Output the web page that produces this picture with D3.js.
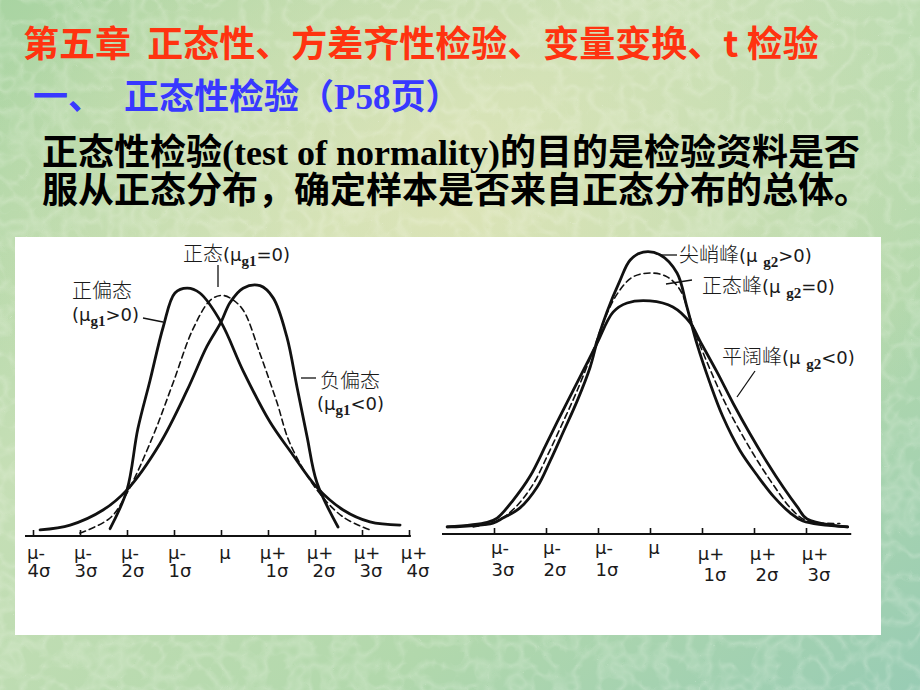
<!DOCTYPE html>
<html>
<head>
<meta charset="utf-8">
<script src="https://cdn.jsdelivr.net/npm/d3@7"></script>
<style>
  html, body { margin: 0; padding: 0; background: #b0d6a8; }
  svg { display: block; }
  .cjk { font-family: "Noto Sans CJK SC", sans-serif; }
  .lbl { font-family: "Noto Sans CJK SC", sans-serif; font-size: 20px; font-weight: 300; fill: #1a1a1a; }
  .lat { font-family: "DejaVu Sans", sans-serif; font-size: 18px; font-weight: 400; fill: #1a1a1a; }
</style>
</head>
<body>
<svg id="slide" width="920" height="690"></svg>
<script>
// 左图：偏度 (x 以 σ 为单位，y 以正态峰高为 1)
const leftTicks = [-4, -3, -2, -1, 0, 1, 2, 3, 4]
const leftTickTop = ["μ-", "μ-", "μ-", "μ-", "μ", "μ+", "μ+", "μ+", "μ+"]
const leftTickBottom = ["4σ", "3σ", "2σ", "1σ", "", "1σ", "2σ", "3σ", "4σ"]

const posSkewX = [-2.36, -2.0, -1.77, -1.51, -1.23, -0.98, -0.72, -0.45, 0.0, 0.47, 1.04, 1.47, 2.04, 2.6, 3.17, 3.81]
const posSkewY = [0.03, 0.19, 0.44, 0.64, 0.86, 1.0, 1.02, 1.0, 0.88, 0.68, 0.47, 0.35, 0.2, 0.107, 0.058, 0.045]

const negSkewX = [-3.85, -3.21, -2.51, -2.0, -1.3, -0.72, -0.3, 0.0, 0.19, 0.47, 0.83, 1.11, 1.4, 1.62, 1.83, 2.04, 2.49]
const negSkewY = [0.025, 0.045, 0.107, 0.19, 0.38, 0.6, 0.78, 0.88, 0.96, 1.02, 1.03, 0.98, 0.82, 0.61, 0.41, 0.22, 0.037]

const skewNormX = [-3.0, -2.36, -2.0, -1.45, -1.02, -0.6, -0.23, 0.0, 0.19, 0.47, 0.83, 1.19, 1.47, 2.04, 2.6, 3.17]
const skewNormY = [0.012, 0.074, 0.177, 0.41, 0.63, 0.85, 0.97, 0.99, 0.98, 0.93, 0.75, 0.55, 0.38, 0.19, 0.078, 0.025]

// 右图：峰度
const rightTicks = [-3, -2, -1, 0, 1, 2, 3]
const rightTickTop = ["μ-", "μ-", "μ-", "μ", "μ+", "μ+", "μ+"]
const rightTickBottom = ["3σ", "2σ", "1σ", "", "1σ", "2σ", "3σ"]

const leptoX = [-3.9, -3.02, -2.83, -2.5, -2.17, -1.92, -1.67, -1.4, -1.15, -1.0, -0.83, -0.58, -0.38, -0.13, 0.19, 0.52, 0.71, 0.9, 1.15, 1.4, 1.73, 2.06, 2.37, 2.69, 2.94, 3.8]
const leptoY = [0.027, 0.042, 0.061, 0.10, 0.18, 0.28, 0.39, 0.51, 0.64, 0.75, 0.85, 0.97, 1.05, 1.08, 1.07, 1.0, 0.87, 0.73, 0.58, 0.45, 0.32, 0.225, 0.145, 0.082, 0.05, 0.027]

const platyX = [-3.9, -3.13, -2.94, -2.63, -2.31, -1.98, -1.67, -1.35, -1.02, -0.71, -0.44, 0.0, 0.44, 0.77, 0.96, 1.29, 1.6, 1.92, 2.25, 2.56, 2.83, 3.02, 3.8]
const platyY = [0.027, 0.045, 0.061, 0.13, 0.22, 0.35, 0.475, 0.6, 0.73, 0.85, 0.885, 0.893, 0.87, 0.81, 0.74, 0.62, 0.5, 0.385, 0.275, 0.18, 0.105, 0.058, 0.027]

const kurtNormX = [-3.4, -2.94, -2.6, -2.25, -1.95, -1.67, -1.4, -1.1, -0.9, -0.63, -0.33, 0.03, 0.33, 0.58, 0.77, 0.93, 1.2, 1.5, 1.8, 2.1, 2.4, 2.7, 3.0, 3.65]
const kurtNormY = [0.027, 0.05, 0.1, 0.19, 0.31, 0.43, 0.55, 0.7, 0.81, 0.92, 0.985, 1.0, 0.985, 0.935, 0.83, 0.74, 0.61, 0.48, 0.37, 0.27, 0.18, 0.1, 0.052, 0.04]

let svg = d3.select("#slide")
let defs = svg.append("defs")

// 背景
let bg = defs.append("linearGradient").attr("id", "bgLin")
    .attr("x1", 0).attr("y1", 0).attr("x2", 1).attr("y2", 1)
bg.append("stop").attr("offset", "0%").attr("stop-color", "#a9d4a2")
bg.append("stop").attr("offset", "35%").attr("stop-color", "#c6dfb6")
bg.append("stop").attr("offset", "70%").attr("stop-color", "#b2d8ac")
bg.append("stop").attr("offset", "100%").attr("stop-color", "#98ccb4")

let glow = defs.append("radialGradient").attr("id", "bgGlow")
    .attr("cx", 0.5).attr("cy", 0.3).attr("r", 0.55)
glow.append("stop").attr("offset", "0%").attr("stop-color", "#e6e6b8").attr("stop-opacity", 0.7)
glow.append("stop").attr("offset", "100%").attr("stop-color", "#e6e6b8").attr("stop-opacity", 0)

let tex = defs.append("filter").attr("id", "tex")
    .attr("x", 0).attr("y", 0).attr("width", "100%").attr("height", "100%")
tex.append("feTurbulence").attr("type", "turbulence")
    .attr("baseFrequency", 0.045).attr("numOctaves", 2).attr("seed", 5)
tex.append("feColorMatrix").attr("type", "matrix")
    .attr("values", "0 0 0 0 1  0 0 0 0 1  0 0 0 0 0.95  -1.6 0 0 0 0.55")

svg.append("rect").attr("width", 920).attr("height", 690).attr("fill", "url(#bgLin)")
svg.append("rect").attr("width", 920).attr("height", 690).attr("fill", "url(#bgGlow)")
svg.append("rect").attr("width", 920).attr("height", 690).attr("filter", "url(#tex)").attr("opacity", 0.35)

// 标题
svg.append("text")
    .attr("class", "cjk")
    .attr("x", 23).attr("y", 57)
    .attr("font-size", 36).attr("font-weight", 700)
    .attr("fill", "#ff3310")
    .style("white-space", "pre")
    .text("第五章  正态性、方差齐性检验、变量变换、t 检验")

let sub = svg.append("g").attr("class", "cjk")
    .attr("font-size", 35).attr("font-weight", 700).attr("fill", "#3838ff")
sub.append("text").attr("x", 33).attr("y", 109).text("一、")
let subT = sub.append("text").attr("x", 124).attr("y", 109)
subT.append("tspan").text("正态性检验（")
subT.append("tspan").attr("font-family", "Liberation Serif").text("P58")
subT.append("tspan").text("页）")

let body = svg.append("g").attr("class", "cjk")
    .attr("font-size", 36).attr("font-weight", 700).attr("fill", "#000")
let line1 = body.append("text").attr("x", 42).attr("y", 165)
line1.append("tspan").text("正态性检验")
line1.append("tspan").attr("font-family", "Liberation Serif").text("(test of normality)")
line1.append("tspan").text("的目的是检验资料是否")
body.append("text").attr("x", 42).attr("y", 203)
    .text("服从正态分布，确定样本是否来自正态分布的总体。")

// 白色图框
svg.append("rect")
    .attr("x", 15).attr("y", 237).attr("width", 866).attr("height", 398)
    .attr("fill", "#fff")

function drawPanel(opt) {
    let g = svg.append("g")
    let x = d3.scaleLinear().domain(opt.xDomain).range(opt.xRange)
    let y = d3.scaleLinear().domain([0, 1]).range(opt.yRange)

    // 横轴
    g.append("line")
        .attr("x1", x(opt.axisExtent[0])).attr("x2", x(opt.axisExtent[1]))
        .attr("y1", y(0)).attr("y2", y(0))
        .attr("stroke", "#111").attr("stroke-width", 2)
    let axis = g.append("g")
        .attr("transform", `translate(0,${y(0)})`)
        .call(d3.axisBottom(x).tickValues(opt.ticks).tickSize(-6).tickFormat(""))
    axis.select(".domain").remove()
    axis.selectAll(".tick line").attr("stroke", "#111").attr("stroke-width", 1.6)

    // 刻度标签（两行，各自一个 text）
    let off = d => d > 0 ? opt.posOff : (d < 0 ? opt.negOff : [4, 0, 0, 0])
    g.append("g").selectAll("text")
        .data(opt.ticks)
        .enter()
        .append("text")
        .attr("class", "lat")
        .attr("text-anchor", "middle")
        .attr("x", d => x(d) + off(d)[0])
        .attr("y", d => y(0) + opt.labelDy[0] + off(d)[2])
        .text((d, i) => opt.tickTop[i])
    g.append("g").selectAll("text")
        .data(opt.ticks)
        .enter()
        .append("text")
        .attr("class", "lat")
        .attr("text-anchor", "middle")
        .attr("x", d => x(d) + off(d)[1])
        .attr("y", d => y(0) + opt.labelDy[1] + off(d)[3])
        .text((d, i) => opt.tickBottom[i])

    let line = d3.line()
        .x(d => x(d[0]))
        .y(d => y(d[1]))
        .curve(d3.curveCatmullRom.alpha(0.5))

    opt.series.forEach(s => {
        g.append("path")
            .attr("d", line(d3.zip(s.x, s.y)))
            .attr("fill", "none")
            .attr("stroke", "#111")
            .attr("stroke-width", s.dashed ? 1.6 : 2.8)
            .attr("stroke-dasharray", s.dashed ? "6,4" : null)
            .attr("stroke-linecap", "round")
            .attr("stroke-linejoin", "round")
    })
    return g
}

let left = drawPanel({
    xDomain: [-4, 4], xRange: [33, 409], yRange: [536, 293],
    axisExtent: [-4.17, 4.04],
    ticks: leftTicks, tickTop: leftTickTop, tickBottom: leftTickBottom,
    labelDy: [23, 41],
    negOff: [3, 6, 0, 0], posOff: [5, 9, 0, 0],
    series: [
        {x: posSkewX, y: posSkewY},
        {x: negSkewX, y: negSkewY},
        {x: skewNormX, y: skewNormY, dashed: true}
    ]
})

let right = drawPanel({
    xDomain: [-3, 3], xRange: [494, 806], yRange: [534, 273],
    axisExtent: [-4.0, 3.87],
    ticks: rightTicks, tickTop: rightTickTop, tickBottom: rightTickBottom,
    labelDy: [20, 42],
    negOff: [6, 9, 0, 0], posOff: [9, 13, 6, 5],
    series: [
        {x: leptoX, y: leptoY},
        {x: platyX, y: platyY},
        {x: kurtNormX, y: kurtNormY, dashed: true}
    ]
})

// 曲线注释
function note(g, xPos, yPos, pre, gap, subText, post) {
    let t = g.append("text").attr("class", "lbl").attr("x", xPos).attr("y", yPos)
    t.append("tspan").text(pre)
    t.append("tspan").attr("class", "lat").text("(μ" + gap)
    t.append("tspan").attr("dy", 5).attr("font-size", 15)
        .attr("font-family", "Liberation Serif").attr("font-weight", 700)
        .text(subText)
    t.append("tspan").attr("class", "lat").attr("dy", -5).text(post)
}
function leader(g, pts) {
    g.append("path").attr("d", d3.line()(pts))
        .attr("fill", "none").attr("stroke", "#111").attr("stroke-width", 1.3)
}

note(left, 183, 261, "正态", "", "g1", "=0)")
leader(left, [[218, 265], [218, 287]])
left.append("text").attr("class", "lbl").attr("x", 72).attr("y", 298).text("正偏态")
note(left, 72, 321, "", "", "g1", ">0)")
leader(left, [[143, 318], [163, 322]])
leader(left, [[301, 378], [316, 378]])
left.append("text").attr("class", "lbl").attr("x", 320).attr("y", 388).text("负偏态")
note(left, 317, 410, "", "", "g1", "<0)")

leader(right, [[660, 255], [677, 255]])
note(right, 679, 262, "尖峭峰", " ", "g2", ">0)")
leader(right, [[666, 284], [692, 280]])
note(right, 702, 293, "正态峰", " ", "g2", "=0)")
note(right, 722, 364, "平阔峰", " ", "g2", "<0)")
leader(right, [[737, 397], [755, 371]])
</script>
</body>
</html>
